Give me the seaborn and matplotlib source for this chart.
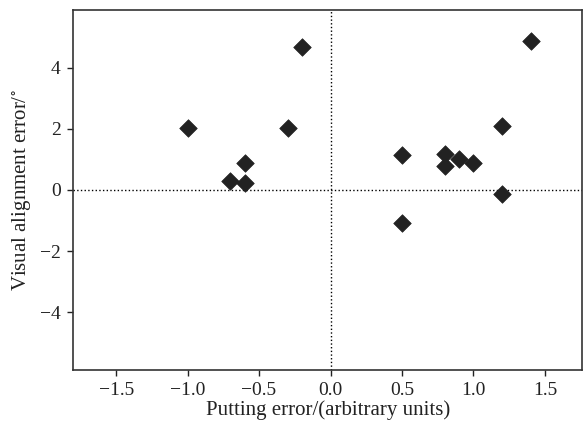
import numpy as np
import pandas as pd
import seaborn as sns
import matplotlib
matplotlib.use('Agg')
import matplotlib.pyplot as plt

# putting error vs visual alignment error
putting_err = [-1.0, -0.7, -0.6, -0.6, -0.3, -0.2,
               0.5, 0.5, 0.8, 0.8, 0.9, 1.0, 1.2, 1.2, 1.4]
align_err = [2.02, 0.29, 0.89, 0.21, 2.02, 4.68,
             1.14, -1.09, 1.18, 0.78, 1.0, 0.89, 2.09, -0.13, 4.88]

x_ticks = [-1.5, -1.0, -0.5, 0.0, 0.5, 1.0, 1.5]
y_ticks = [-4, -2, 0, 2, 4]

df = pd.DataFrame({'putting': putting_err, 'align': align_err})

sns.set_theme(style='ticks')
plt.rcParams['font.family'] = ['Liberation Serif', 'DejaVu Serif']
plt.rcParams['mathtext.fontset'] = 'stix'

fig = plt.figure(figsize=(5.83, 4.26), dpi=100)
ax = fig.add_axes([0.1257, 0.1326, 0.8726, 0.8439])

ax.axhline(0, color='black', linestyle=':', linewidth=1.0, zorder=1)
ax.axvline(0, color='black', linestyle=':', linewidth=1.0, zorder=1)

sns.scatterplot(data=df, x='putting', y='align', marker='D', s=80,
                color='#222222', edgecolor='#222222', linewidth=0.5,
                ax=ax, zorder=3, legend=False)

ax.set_xlim(-1.8, 1.76)
ax.set_ylim(-5.87, 5.88)
ax.set_xticks(x_ticks)
ax.set_xticklabels(['\u2212' + f'{abs(v):.1f}' if v < 0 else f'{v:.1f}' for v in x_ticks])
ax.set_yticks(y_ticks)
ax.set_yticklabels(['\u2212' + str(abs(v)) if v < 0 else str(v) for v in y_ticks])

ax.set_xlabel('Putting error/(arbitrary units)', fontsize=15, color='#222222', labelpad=1)
ax.set_ylabel('Visual alignment error/$^{\\circ}$', fontsize=15, color='#222222', labelpad=5)
ax.tick_params(axis='both', direction='out', length=4, width=1, labelsize=14,
               colors='#222222', pad=5)

for side in ['top', 'right', 'left', 'bottom']:
    ax.spines[side].set_visible(True)
    ax.spines[side].set_color('#333333')
    ax.spines[side].set_linewidth(1.2)

fig.savefig('out.png', dpi=100)
